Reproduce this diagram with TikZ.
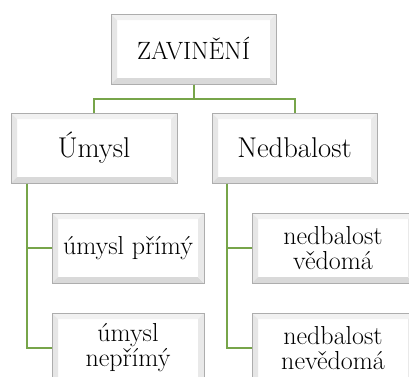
\documentclass[tikz,border=0pt]{standalone}
\usepackage{fontspec}
\usetikzlibrary{calc}
\definecolor{bord}{HTML}{ADADAD}
\definecolor{bevT}{HTML}{F1F1F1}
\definecolor{bevL}{HTML}{E6E6E6}
\definecolor{bevB}{HTML}{D9D9D9}
\definecolor{bevR}{HTML}{E9E9E9}
\definecolor{lnk}{HTML}{77A54A}
\tikzset{
  bevbox/.style={draw=bord, line width=1pt, fill=white, inner sep=0pt, align=center,
    minimum width=#1, minimum height=70pt,
    path picture={
      \coordinate (pa) at (path picture bounding box.south west);
      \coordinate (pb) at (path picture bounding box.north east);
      \fill[bevT] (pa|-pb) -- (pb) -- ($(pb)+(-6,6)$) -- ($(pa|-pb)+(6,6)$) -- cycle;
      \fill[bevL] (pa|-pb) -- (pa) -- ($(pa)+(6,-6)$) -- ($(pa|-pb)+(6,6)$) -- cycle;
      \fill[bevB] (pa) -- (pb|-pa) -- ($(pb|-pa)+(-6,-6)$) -- ($(pa)+(6,-6)$) -- cycle;
      \fill[bevR] (pb|-pa) -- (pb) -- ($(pb)+(-6,6)$) -- ($(pb|-pa)+(-6,-6)$) -- cycle;
    }},
  bevbox/.default=152pt,
  toptext/.style={font=\fontsize{25}{27}\selectfont},
  midtext/.style={font=\fontsize{28.6}{31}\selectfont},
  subtext/.style={font=\fontsize{26}{25}\selectfont},
  link/.style={draw=lnk, line width=2pt}
}
\begin{document}
\begin{tikzpicture}[x=1pt,y=-1pt]
\useasboundingbox[fill=white] (0,0) rectangle (409,376);
\node[bevbox=165pt, toptext] (top) at (193.5,49) {ZAVINĚNÍ};
\node[bevbox=166pt, midtext] (umysl) at (94,148) {Úmysl};
\node[bevbox=165pt, midtext] (nedb) at (294.5,148) {Nedbalost};
\node[bevbox=152pt, subtext] (up) at (128,248) {úmysl přímý};
\node[bevbox=152pt, subtext] (unp) at (128,348) {úmysl\\nepřímý};
\node[bevbox=162pt, subtext] (nv) at (333,248) {nedbalost\\vědomá};
\node[bevbox=162pt, subtext] (nn) at (333,348) {nedbalost\\nevědomá};
\coordinate (ul) at ($(umysl.south west)+(16,0)$);
\coordinate (nl) at ($(nedb.south west)+(15,0)$);
\draw[link] (top.south) -- ++(0,14) -| (umysl.north);
\draw[link] (top.south) -- ++(0,14) -| (nedb.north);
\draw[link] (ul) |- (up.west);
\draw[link] (ul) |- (unp.west);
\draw[link] (nl) |- (nv.west);
\draw[link] (nl) |- (nn.west);
\end{tikzpicture}
\end{document}
